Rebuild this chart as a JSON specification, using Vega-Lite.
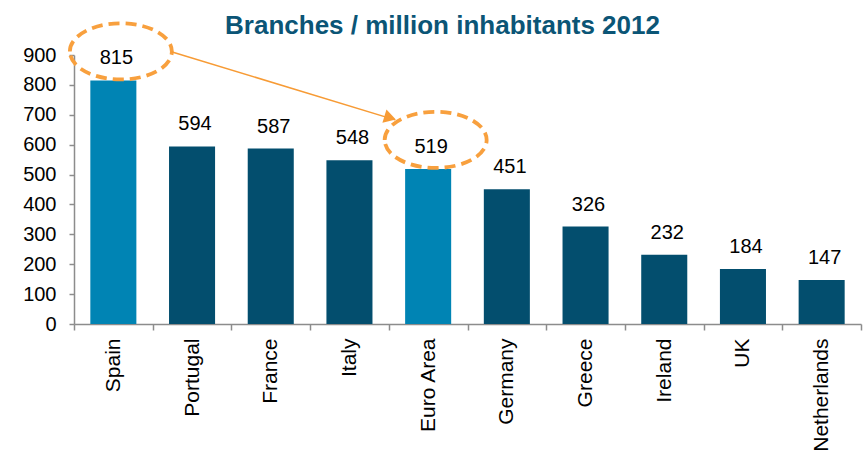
{
  "$schema": "https://vega.github.io/schema/vega-lite/v6.json",
  "width": 787,
  "height": 269,
  "autosize": "none",
  "padding": {"left": 74, "top": 55, "right": 4, "bottom": 129},
  "background": "white",
  "config": {
    "view": {"stroke": null},
    "font": "Liberation Sans",
    "axis": {
      "title": null,
      "labelFont": "Liberation Sans",
      "labelFontSize": 20,
      "labelColor": "#000000",
      "labelOverlap": false,
      "labelFlush": false,
      "grid": false,
      "domainColor": "#8c8c8c",
      "tickColor": "#8c8c8c",
      "domainWidth": 1.5,
      "tickWidth": 1.5
    },
    "axisX": {"labelAngle": -90, "labelPadding": 8, "labelFontSize": 21, "tickBand": "extent", "tickSize": 6},
    "axisY": {"labelPadding": 13, "tickSize": 5, "tickCount": 10}
  },
  "title": {
    "text": "Branches / million inhabitants 2012",
    "font": "Liberation Sans",
    "fontSize": 26,
    "fontWeight": "bold",
    "color": "#0B5576",
    "anchor": "middle",
    "frame": "group",
    "dx": -25,
    "offset": -44,
    "baseline": "alphabetic"
  },
  "datasets": {
    "main": [
      {"country": "Spain", "value": 815, "group": "hl"},
      {"country": "Portugal", "value": 594, "group": "other"},
      {"country": "France", "value": 587, "group": "other"},
      {"country": "Italy", "value": 548, "group": "other"},
      {"country": "Euro Area", "value": 519, "group": "hl"},
      {"country": "Germany", "value": 451, "group": "other"},
      {"country": "Greece", "value": 326, "group": "other"},
      {"country": "Ireland", "value": 232, "group": "other"},
      {"country": "UK", "value": 184, "group": "other"},
      {"country": "Netherlands", "value": 147, "group": "other"}
    ],
    "arrow": [
      {"from": "Spain", "to": "Euro Area", "start": 911, "end": 683}
    ]
  },
  "data": {"name": "main"},
  "layer": [
    {
      "mark": {"type": "bar", "width": {"band": 0.585}},
      "encoding": {
        "x": {
          "field": "country",
          "type": "nominal",
          "title": null,
          "scale": {
            "domain": ["Spain", "Portugal", "France", "Italy", "Euro Area", "Germany", "Greece", "Ireland", "UK", "Netherlands"],
            "paddingInner": 0,
            "paddingOuter": 0
          }
        },
        "y": {
          "field": "value",
          "type": "quantitative",
          "title": null,
          "scale": {"domain": [0, 900], "nice": false}
        },
        "color": {
          "field": "group",
          "type": "nominal",
          "scale": {"domain": ["hl", "other"], "range": ["#0084B4", "#034E6E"]},
          "legend": null
        }
      }
    },
    {
      "mark": {"type": "text", "dy": -16, "dx": 3, "baseline": "alphabetic", "fontSize": 20, "color": "#000000"},
      "encoding": {
        "x": {"field": "country", "type": "nominal", "title": null},
        "y": {"field": "value", "type": "quantitative", "title": null},
        "text": {"field": "value", "type": "quantitative"}
      }
    },
    {
      "transform": [{"filter": "datum.group === 'hl'"}],
      "mark": {
        "type": "point",
        "shape": "M -1 0 C -1 -0.304 -0.552 -0.55 0 -0.55 C 0.552 -0.55 1 -0.304 1 0 C 1 0.304 0.552 0.55 0 0.55 C -0.552 0.55 -1 0.304 -1 0 Z",
        "size": 10404,
        "filled": false,
        "color": "#F8A03E",
        "stroke": "#F8A03E",
        "strokeWidth": 3.8,
        "strokeDash": [11, 6],
        "opacity": 1,
        "xOffset": 7.5,
        "yOffset": -29,
        "clip": false
      },
      "encoding": {
        "x": {"field": "country", "type": "nominal", "title": null},
        "y": {"field": "value", "type": "quantitative", "title": null}
      }
    },
    {
      "data": {"name": "arrow"},
      "mark": {"type": "rule", "color": "#F79B35", "strokeWidth": 1.5, "xOffset": 58, "x2Offset": -33, "clip": false},
      "encoding": {
        "x": {"field": "from", "type": "nominal", "title": null},
        "x2": {"field": "to"},
        "y": {"field": "start", "type": "quantitative", "title": null},
        "y2": {"field": "end"}
      }
    },
    {
      "data": {"name": "arrow"},
      "mark": {"type": "point", "shape": "triangle-right", "size": 190, "angle": 17, "filled": true, "color": "#F79B35", "opacity": 1, "xOffset": -38, "yOffset": -2, "clip": false},
      "encoding": {
        "x": {"field": "to", "type": "nominal", "title": null},
        "y": {"field": "end", "type": "quantitative", "title": null}
      }
    }
  ]
}
